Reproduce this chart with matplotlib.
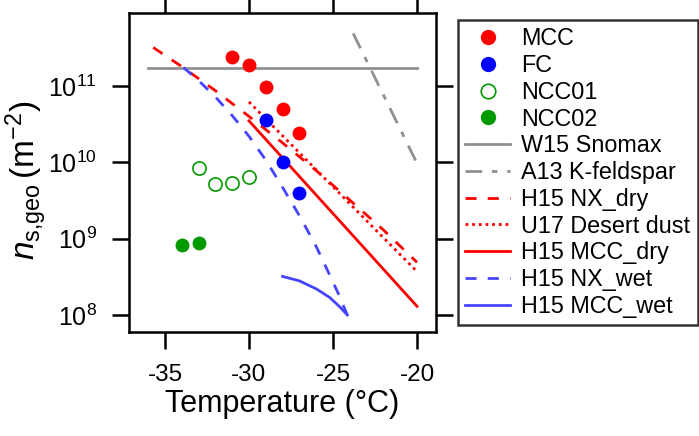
import matplotlib
matplotlib.use("Agg")
import matplotlib.pyplot as plt
from matplotlib.ticker import FixedLocator, NullLocator

plt.rcParams['font.family'] = ['Liberation Sans', 'DejaVu Sans']
plt.rcParams['mathtext.fontset'] = 'custom'
plt.rcParams['mathtext.rm'] = 'Liberation Sans'
plt.rcParams['mathtext.it'] = 'Liberation Sans:italic'

# measured points (T in deg C, ns in m^-2)
mcc_T = [-31, -30, -29, -28, -27]
mcc_ns = [2.4e11, 1.9e11, 9.6e10, 5.0e10, 2.45e10]
fc_T = [-29, -28, -27]
fc_ns = [3.6e10, 1.0e10, 4.0e9]
ncc01_T = [-33, -32, -31, -30]
ncc01_ns = [8.5e9, 5.2e9, 5.4e9, 6.5e9]
ncc02_T = [-34, -33]
ncc02_ns = [8.3e8, 8.9e8]

# literature parameterisations
w15_T = [-36, -20]
w15_ns = [1.74e11, 1.74e11]
a13_T = [-23.8, -20]
a13_ns = [4.9e11, 9.7e9]
nxdry_T = [-35.7, -34, -32, -30, -28, -26, -24, -22, -20]
nxdry_ns = [3.2e11, 1.8e11, 8.7e10, 4.0e10, 1.8e10, 7.8e9, 3.2e9, 1.3e9, 4.9e8]
u17_T = [-30, -20]
u17_ns = [6.2e10, 3.7e8]
mccdry_T = [-30, -20]
mccdry_ns = [3.5e10, 1.3e8]
nxwet_T = [-33.9, -33, -32, -31, -30, -29, -28, -27, -26, -25, -24.68, -24.15]
nxwet_ns = [1.75e11, 1.18e11, 7.2e10, 4.1e10, 2.2e10, 1.07e10, 4.7e9, 2.0e9,
            7.9e8, 2.7e8, 1.9e8, 1.0e8]
mccwet_T = [-28, -27, -26, -25.2, -24.6, -24.15]
mccwet_ns = [3.2e8, 2.8e8, 2.2e8, 1.7e8, 1.28e8, 1.0e8]

xticks = [-35, -30, -25, -20]
yticks = [1e8, 1e9, 1e10, 1e11]
ytick_labels = [r'$10^{8}$', r'$10^{9}$', r'$10^{10}$', r'$10^{11}$']

RED = '#FF0000'
BLUE = '#0000FF'
LBLUE = '#4545FF'
GREEN = '#009A00'
GRAY = '#909090'

fig = plt.figure(figsize=(6.99, 4.36), dpi=100)
ax = fig.add_axes([129 / 699, 1 - 332 / 436, 307 / 699, 319 / 436])
ax.set_yscale('log')

ms = 10
ax.plot(mcc_T, mcc_ns, 'o', color=RED, ms=ms, mec='none', label='MCC', zorder=5)
ax.plot(fc_T, fc_ns, 'o', color=BLUE, ms=ms, mec='none', label='FC', zorder=5)
ax.plot(ncc01_T, ncc01_ns, 'o', mfc='none', mec=GREEN, mew=1.2, ms=ms - 0.5,
        label='NCC01', zorder=5)
ax.plot(ncc02_T, ncc02_ns, 'o', color=GREEN, ms=ms, mec='none', label='NCC02', zorder=5)

lw = 2.0
ax.plot(w15_T, w15_ns, '-', color=GRAY, lw=lw, label='W15 Snomax')
ax.plot(a13_T, a13_ns, color=GRAY, lw=lw, dashes=(6, 3.5, 2, 3.5),
        label='A13 K-feldspar')
ax.plot(nxdry_T, nxdry_ns, color=RED, lw=lw, dashes=(4, 4), label='H15 NX_dry')
ax.plot(u17_T, u17_ns, color=RED, lw=lw, dashes=(1, 1.4), label='U17 Desert dust')
ax.plot(mccdry_T, mccdry_ns, '-', color=RED, lw=lw, label='H15 MCC_dry')
ax.plot(nxwet_T, nxwet_ns, color=LBLUE, lw=lw, dashes=(4, 4), label='H15 NX_wet')
ax.plot(mccwet_T, mccwet_ns, '-', color=LBLUE, lw=lw, label='H15 MCC_wet')

ax.set_xlim(-37.14, -18.87)
ax.set_ylim(10 ** 7.777, 10 ** 11.957)

ax.xaxis.set_major_locator(FixedLocator(xticks))
ax.xaxis.set_minor_locator(NullLocator())
ax.yaxis.set_major_locator(FixedLocator(yticks))
ax.yaxis.set_minor_locator(NullLocator())
ax.set_xticklabels([str(t) for t in xticks])
ax.set_yticklabels(ytick_labels)

for s in ax.spines.values():
    s.set_linewidth(1.8)
ax.tick_params(axis='both', which='major', direction='out', length=12, width=1.8,
               top=True, right=True, labeltop=False, labelright=False)
ax.tick_params(axis='x', labelsize=17.5, pad=11)
ax.tick_params(axis='y', labelsize=18, pad=11)

ax.set_xlabel('Temperature (°C)', fontsize=22)
ax.xaxis.set_label_coords(0.5, -0.178)
ax.set_ylabel(r'$n_{\mathrm{s{,}geo}}\,(\mathrm{m}^{-2})$', fontsize=24)
ax.yaxis.set_label_coords(-0.26, 0.475)

leg = fig.legend(loc='upper left', bbox_to_anchor=(458 / 699, 1 - 20 / 436),
                 fontsize=16.8, frameon=True, fancybox=False, borderaxespad=0,
                 handlelength=1.9, handletextpad=0.5, labelspacing=0.16,
                 borderpad=0.32, markerscale=1.1)
leg.get_frame().set_edgecolor('black')
leg.get_frame().set_linewidth(1.8)

fig.savefig('out.png', dpi=100)
